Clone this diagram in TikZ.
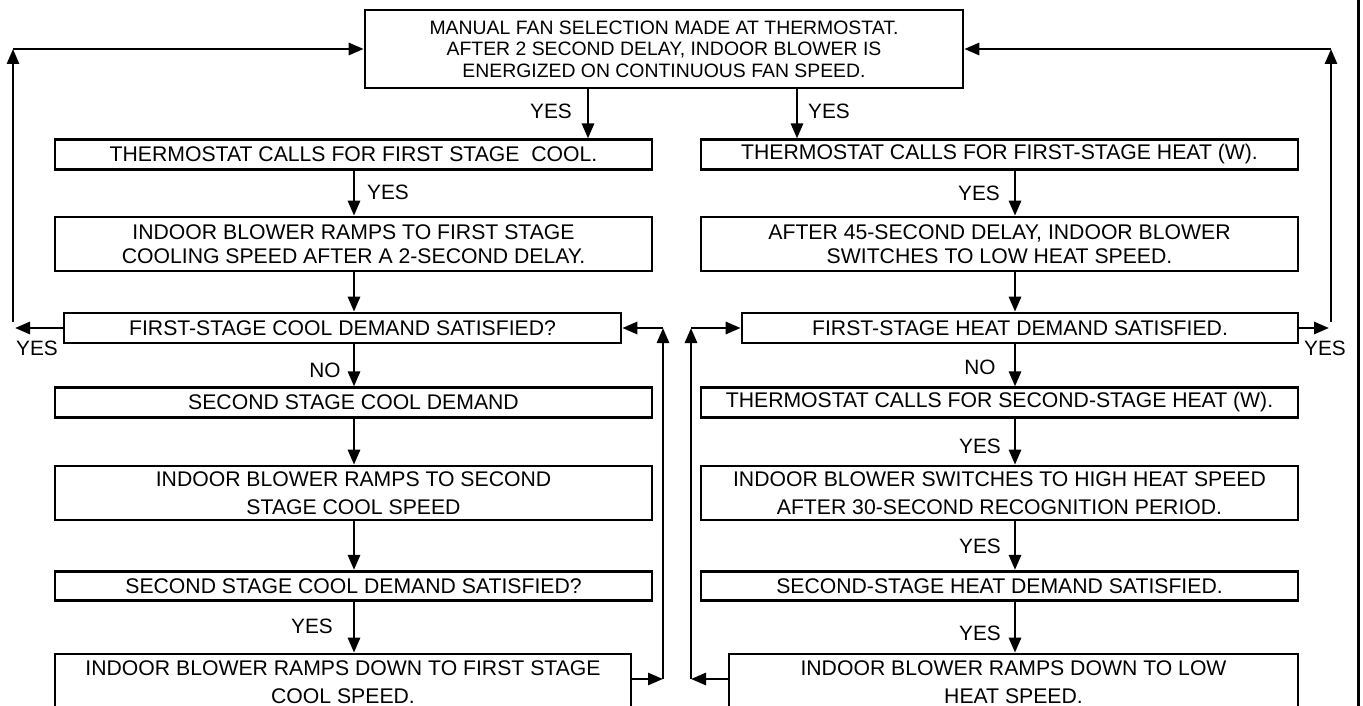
\documentclass[tikz,border=0pt]{standalone}
\usepackage{fontspec}
\setmainfont{Liberation Sans}
\usetikzlibrary{arrows.meta}
\tikzset{
  every picture/.style={line join=miter, line cap=butt},
  stepbox/.style={draw, line width=2.6pt, inner sep=0pt, align=center,
    font={\fontsize{21.2}{23.5}\selectfont}},
  lowbox/.style={minimum width=597pt, minimum height=29.5pt},
  highbox/.style={minimum width=597pt, minimum height=54pt},
  tall/.style={font={\fontsize{21.2}{27.5}\selectfont}},
  yesno/.style={inner sep=0pt, font={\fontsize{20.8}{24}\selectfont}},
}

\begin{document}
\begin{tikzpicture}[x=1pt,y=-1pt,->,>={Triangle[length=15pt,width=12pt]},line width=2.8pt]
\useasboundingbox (0,0) rectangle (1363,706);
\clip (0,0) rectangle (1363,706);

\node[stepbox,minimum width=598pt,minimum height=78pt,font={\fontsize{19.4}{21.6}\selectfont}] (fan) at (664,49)
 {MANUAL FAN SELECTION MADE AT THERMOSTAT.\\AFTER 2 SECOND DELAY, INDOOR BLOWER IS\\ENERGIZED ON CONTINUOUS FAN SPEED.};

% cooling side
\node[stepbox,lowbox] (cool1) at (353.5,154.5) {THERMOSTAT CALLS FOR FIRST STAGE~ COOL.};
\node[stepbox,highbox] (cool2) at (353.5,244) {INDOOR BLOWER RAMPS TO FIRST STAGE\\COOLING SPEED AFTER A 2-SECOND DELAY.};
\node[stepbox,minimum width=557pt,minimum height=30pt] (coolsat) at (342.5,328) {FIRST-STAGE COOL DEMAND SATISFIED?};
\node[stepbox,lowbox] (cool3) at (353.5,402.5) {SECOND STAGE COOL DEMAND};
\node[stepbox,highbox,tall] (cool4) at (353.5,493) {INDOOR BLOWER RAMPS TO SECOND\\STAGE COOL SPEED};
\node[stepbox,lowbox] (cool5) at (353.5,586) {SECOND STAGE COOL DEMAND SATISFIED?};
\node[stepbox,minimum width=576pt,minimum height=56pt,tall] (cool6) at (343,682)
 {INDOOR BLOWER RAMPS DOWN TO FIRST STAGE\\COOL SPEED.};

% heating side
\node[stepbox,lowbox] (heat1) at (999.5,154.5) {THERMOSTAT CALLS FOR FIRST-STAGE HEAT (W).};
\node[stepbox,highbox] (heat2) at (999.5,244) {AFTER 45-SECOND DELAY, INDOOR BLOWER\\SWITCHES TO LOW HEAT SPEED.};
\node[stepbox,minimum width=556pt,minimum height=30pt] (heatsat) at (1020,328) {FIRST-STAGE HEAT DEMAND SATISFIED.};
\node[stepbox,lowbox] (heat3) at (999.5,402.5) {THERMOSTAT CALLS FOR SECOND-STAGE HEAT (W).};
\node[stepbox,highbox,tall] (heat4) at (999.5,493) {INDOOR BLOWER SWITCHES TO HIGH HEAT SPEED\\AFTER 30-SECOND RECOGNITION PERIOD.};
\node[stepbox,lowbox] (heat5) at (999.5,586) {SECOND-STAGE HEAT DEMAND SATISFIED.};
\node[stepbox,minimum width=569pt,minimum height=56pt,tall] (heat6) at (1013.5,682)
 {INDOOR BLOWER RAMPS DOWN TO LOW\\HEAT SPEED.};

\coordinate (fl) at (588,0);
\coordinate (fr) at (797,0);
\coordinate (lax) at (354,0);
\coordinate (rax) at (1015,0);

\draw (fan.south -| fl)--(cool1.north -| fl);
\draw (fan.south -| fr)--(heat1.north -| fr);

\draw (cool1.south -| lax)--(cool2.north -| lax);
\draw (cool2.south -| lax)--(coolsat.north -| lax);
\draw (coolsat.south -| lax)--(cool3.north -| lax);
\draw (cool3.south -| lax)--(cool4.north -| lax);
\draw (cool4.south -| lax)--(cool5.north -| lax);
\draw (cool5.south -| lax)--(cool6.north -| lax);

\draw (heat1.south -| rax)--(heat2.north -| rax);
\draw (heat2.south -| rax)--(heatsat.north -| rax);
\draw (heatsat.south -| rax)--(heat3.north -| rax);
\draw (heat3.south -| rax)--(heat4.north -| rax);
\draw (heat4.south -| rax)--(heat5.north -| rax);
\draw (heat5.south -| rax)--(heat6.north -| rax);

% back to the fan box
\coordinate (lyes) at (15,328);
\coordinate (lfoot) at (13,322);
\coordinate (ltop) at (13,49);
\draw (coolsat.west)--(lyes);
\draw (lfoot)--(ltop);
\draw (ltop)--(fan.west);
\coordinate (ryes) at (1329,328);
\coordinate (rfoot) at (1331,322);
\coordinate (rtop) at (1331,49);
\draw (heatsat.east)--(ryes);
\draw (rfoot)--(rtop);
\draw (rtop)--(fan.east);

% back to first stage
\coordinate (lback) at (663,679);
\draw (cool6.east |- lback)--(lback);
\draw (lback)--(lback |- coolsat.east);
\draw (lback |- coolsat.east)--(coolsat.east);
\coordinate (rback) at (691,679);
\draw (heat6.west |- rback)--(rback);
\draw (rback)--(rback |- heatsat.west);
\draw (rback |- heatsat.west)--(heatsat.west);

\draw[-,line width=3pt] (1358,0)--(1358,706);

\node[yesno] (yfl) at (551,111) {YES};
\node[yesno] (yfr) at (829,111) {YES};
\node[yesno] (yc1) at (388,192) {YES};
\node[yesno] (yh1) at (979,193) {YES};
\node[yesno] (ycs) at (37,348) {YES};
\node[yesno] (yhs) at (1325,348) {YES};
\node[yesno] (nc) at (325,370) {NO};
\node[yesno] (nh) at (980,367) {NO};
\node[yesno] (yh3) at (980,446) {YES};
\node[yesno] (yh4) at (980,546) {YES};
\node[yesno] (yh5) at (980,633) {YES};
\node[yesno] (yc5) at (312,626) {YES};
\end{tikzpicture}
\end{document}
